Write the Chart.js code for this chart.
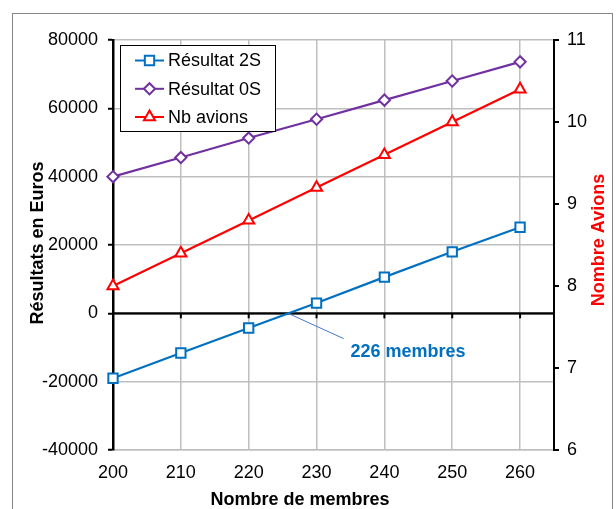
<!DOCTYPE html>
<html>
<head>
<meta charset="utf-8">
<script src="https://cdn.jsdelivr.net/npm/chart.js@4.4.0/dist/chart.umd.min.js"></script>
<style>
  html, body { margin: 0; padding: 0; background: #fff; }
  #wrap { position: relative; width: 616px; height: 509px; overflow: hidden; }
  #frame { position: absolute; left: 12px; top: 13px; width: 601px; height: 520px; border: 1.5px solid #868686; box-sizing: border-box; }
  #cv { position: absolute; left: 0; top: 0; }
</style>
</head>
<body>
<div id="wrap">
  <div id="frame"></div>
  <canvas id="cv" width="616" height="509"></canvas>
</div>
<script>
// ---- Data ----
const members   = [200, 210, 220, 230, 240, 250, 260];
const resultat2S = [-19000, -11600, -4300, 3000, 10600, 18000, 25200];
const resultat0S = [40000, 45600, 51300, 56800, 62400, 68000, 73600];
const nbAvions   = [8.0, 8.4, 8.8, 9.2, 9.6, 10.0, 10.4];
const seriesNames = ['Résultat 2S', 'Résultat 0S', 'Nb avions'];
const leftTitle  = 'Résultats en Euros';
const rightTitle = 'Nombre Avions';
const bottomTitle = 'Nombre de membres';
const annotationText = '226 membres';
const annotationPoint = [225.8, 0];      // zero crossing (data units)
const annotationEnd   = [234.0, -7400];  // end of leader line (data units)
const annotationLabel = [235.0, -12750]; // label anchor (data units)

const FONT = '"Liberation Sans", Arial, sans-serif';
const toXY = (ys) => members.map((m, i) => ({ x: m, y: ys[i] }));

const styles = [
  { color: '#0070C0', pointStyle: 'rect', radius: 6.6 },
  { color: '#7030A0', pointStyle: 'rectRot', radius: 5.6 },
  { color: '#FF0000', pointStyle: 'triangle', radius: 6.4 }
];

const customPlugin = {
  id: 'custom',
  beforeDatasetsDraw(chart) {
    const { ctx, chartArea, scales } = chart;
    const y0 = scales.y.getPixelForValue(0);
    ctx.save();
    ctx.strokeStyle = '#000';
    ctx.lineWidth = 2;
    ctx.beginPath();
    ctx.moveTo(chartArea.left, y0);
    ctx.lineTo(chartArea.right, y0);
    ctx.stroke();
    members.forEach(m => {
      const px = scales.x.getPixelForValue(m);
      ctx.beginPath();
      ctx.moveTo(px, y0);
      ctx.lineTo(px, y0 + 5);
      ctx.stroke();
    });
    ctx.restore();
  },
  afterDatasetsDraw(chart) {
    const { ctx, scales } = chart;
    ctx.save();
    // annotation
    const ax = scales.x.getPixelForValue(annotationPoint[0]);
    const ay = scales.y.getPixelForValue(annotationPoint[1]);
    const bx = scales.x.getPixelForValue(annotationEnd[0]);
    const by = scales.y.getPixelForValue(annotationEnd[1]);
    ctx.strokeStyle = '#4578C8';
    ctx.lineWidth = 1;
    ctx.beginPath();
    ctx.moveTo(ax, ay);
    ctx.lineTo(bx, by);
    ctx.stroke();
    ctx.fillStyle = '#0070C0';
    ctx.font = 'bold 18px ' + FONT;
    ctx.textAlign = 'left';
    ctx.textBaseline = 'alphabetic';
    ctx.fillText(annotationText,
      scales.x.getPixelForValue(annotationLabel[0]),
      scales.y.getPixelForValue(annotationLabel[1]));

    // legend
    const lx = 120.5, ly = 45.5, lw = 155, lh = 86;
    ctx.fillStyle = '#fff';
    ctx.fillRect(lx, ly, lw, lh);
    ctx.strokeStyle = '#000';
    ctx.lineWidth = 1;
    ctx.strokeRect(lx, ly, lw, lh);
    const rows = [60.5, 88.8, 117];
    chart.data.datasets.forEach((ds, i) => {
      const yy = rows[i];
      ctx.strokeStyle = ds.borderColor;
      ctx.lineWidth = 2;
      ctx.beginPath();
      ctx.moveTo(135, yy);
      ctx.lineTo(164, yy);
      ctx.stroke();
      ctx.fillStyle = '#fff';
      Chart.helpers.drawPoint(ctx, {
        pointStyle: ds.pointStyle, radius: ds.pointRadius, rotation: 0, borderWidth: 2
      }, 149.5, yy);
      ctx.fillStyle = '#000';
      ctx.font = '18px ' + FONT;
      ctx.textBaseline = 'middle';
      ctx.fillText(ds.label, 168, yy + 1);
    });

    // axis titles
    ctx.font = 'bold 18px ' + FONT;
    ctx.textBaseline = 'alphabetic';
    ctx.textAlign = 'center';
    ctx.fillStyle = '#000';
    ctx.fillText(bottomTitle, 300, 505);
    ctx.save();
    ctx.translate(42.5, 243);
    ctx.rotate(-Math.PI / 2);
    ctx.fillText(leftTitle, 0, 0);
    ctx.restore();
    ctx.save();
    ctx.translate(604, 240);
    ctx.rotate(-Math.PI / 2);
    ctx.fillStyle = '#FF0000';
    ctx.fillText(rightTitle, 0, 0);
    ctx.restore();
    ctx.restore();
  }
};

new Chart(document.getElementById('cv'), {
  type: 'line',
  data: {
    datasets: [
      { label: seriesNames[0], data: toXY(resultat2S), yAxisID: 'y' },
      { label: seriesNames[1], data: toXY(resultat0S), yAxisID: 'y' },
      { label: seriesNames[2], data: toXY(nbAvions), yAxisID: 'y1' }
    ].map((d, i) => Object.assign(d, {
      borderColor: styles[i].color,
      backgroundColor: '#fff',
      pointBackgroundColor: '#fff',
      pointBorderColor: styles[i].color,
      pointStyle: styles[i].pointStyle,
      pointRadius: styles[i].radius,
      pointBorderWidth: 2,
      borderWidth: 2.2,
      tension: 0,
      fill: false,
      clip: false
    }))
  },
  options: {
    responsive: false,
    animation: false,
    layout: { padding: { top: 40, left: 0, right: 0, bottom: 0 } },
    plugins: { legend: { display: false }, tooltip: { enabled: false } },
    scales: {
      x: {
        type: 'linear', position: 'bottom', min: 200, max: 265,
        afterFit: (s) => { s.height = 59; },
        ticks: { stepSize: 10, includeBounds: false, color: '#000', padding: 12,
                 font: { family: FONT, size: 18 }, callback: (v) => String(v) },
        grid: { color: '#bfbfbf', lineWidth: 1.5, drawTicks: false },
        border: { color: '#bfbfbf', width: 1.5 }
      },
      y: {
        type: 'linear', position: 'left', min: -40000, max: 80000,
        afterFit: (s) => { s.width = 113; },
        ticks: { stepSize: 20000, color: '#000', padding: 10,
                 font: { family: FONT, size: 18 }, callback: (v) => String(v) },
        grid: {
          color: (c) => (c.tick && c.tick.value === 0) ? '#000' : '#bfbfbf',
          lineWidth: 1.5, tickColor: '#000', tickLength: 5, tickWidth: 2
        },
        border: { color: '#000', width: 2.5 }
      },
      y1: {
        type: 'linear', position: 'right', min: 6, max: 11,
        afterFit: (s) => { s.width = 62; },
        ticks: { stepSize: 1, color: '#000', padding: 8,
                 font: { family: FONT, size: 18 }, callback: (v) => String(v) },
        grid: { drawOnChartArea: false, tickColor: '#000', tickLength: 5, lineWidth: 2 },
        border: { color: '#000', width: 2 }
      }
    }
  },
  plugins: [customPlugin]
});
</script>
</body>
</html>
